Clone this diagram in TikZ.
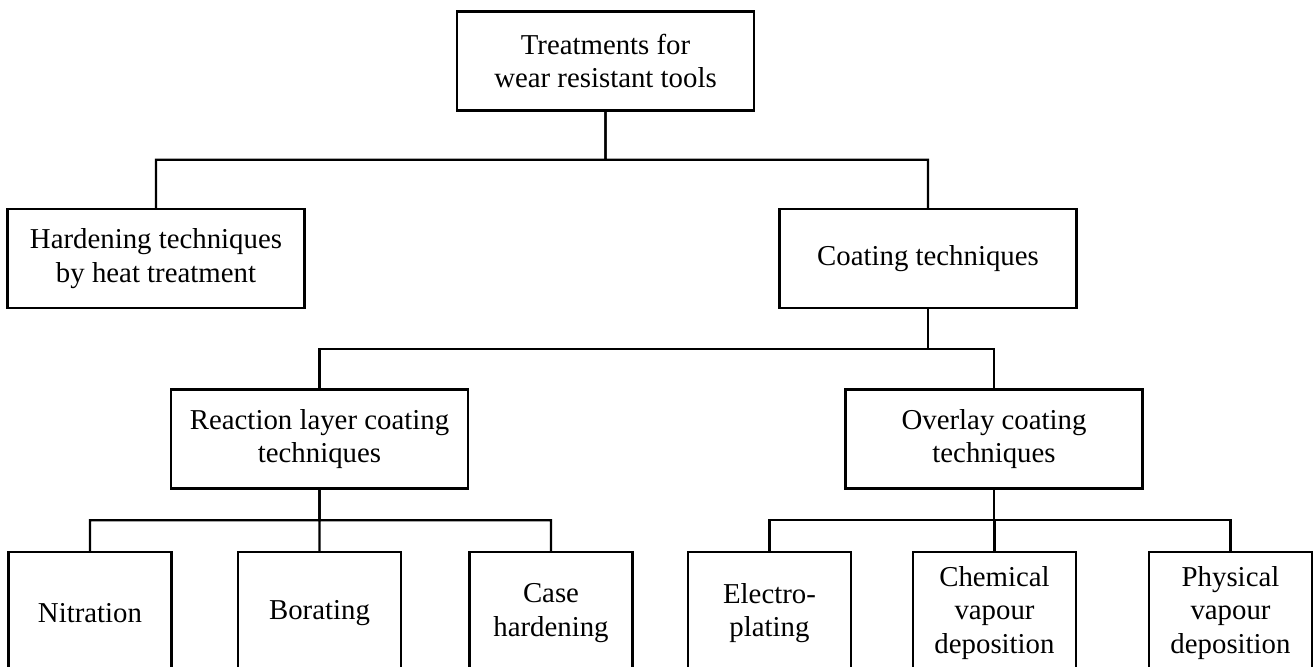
\documentclass[tikz,border=0pt]{standalone}
\usepackage{fontspec}
\setmainfont{Liberation Serif}
\usepackage{tikz}
\usetikzlibrary{calc}

\begin{document}
\begin{tikzpicture}[x=0.02cm,y=-0.02cm,line width=1.4pt,
    box/.style={draw,rectangle,align=center,inner sep=0pt,minimum width=5.94cm,minimum height=1.98cm,font=\fontsize{16.4}{19}\selectfont},
    leaf/.style={box,minimum width=3.26cm,minimum height=2.44cm}]
    \path [use as bounding box,clip] (0,0) rectangle (1314,666);
    \node [box] (1) at (605.5,61) {Treatments for\\wear resistant tools};
    \node [box] (2) at (156,258.5) {Hardening techniques\\by heat treatment};
    \node [box] (3) at (928,258.5) {Coating techniques};
    \node [box] (4) at (319.5,439) {Reaction layer coating\\techniques};
    \node [box] (5) at (994,439) {Overlay coating\\techniques};
    \node [leaf] (6) at (90,613) {Nitration};
    \node [leaf] (7) at (319.5,613) {Borating};
    \node [leaf] (8) at (551,613) {Case\\hardening};
    \node [leaf] (9) at (769.5,613) {Electro-\\plating};
    \node [leaf] (10) at (994.5,613) {Chemical\\vapour\\deposition};
    \node [leaf] (11) at (1230.5,613) {Physical\\vapour\\deposition};
    \foreach \a/\b in {1/2,1/3,3/4,3/5,4/6,4/7,4/8,5/9,5/10,5/11}
      \draw (\a.south) -- ($(\a.south)!.5!(\a.south|-\b.north)$) -| (\b.north);
  \end{tikzpicture}
\end{document}
